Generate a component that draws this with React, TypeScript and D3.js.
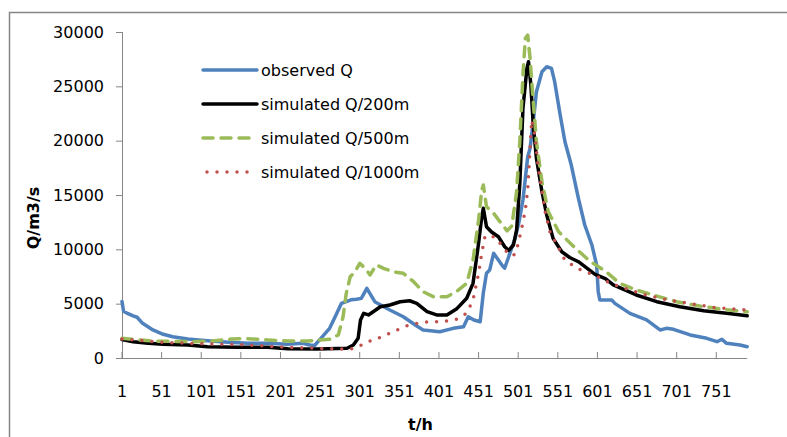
import React from "react";
import * as d3 from "d3";

// ---- data (hour, Q m3/s) ----
const observedQ: [number, number][] = [
  [1, 5200], [3, 4300], [8, 4100], [15, 3870], [20, 3750], [27, 3190], [40, 2580], [53, 2180], [65, 1960],
  [84, 1750], [109, 1590], [135, 1440], [160, 1350], [185, 1350], [210, 1260], [229, 1350], [238, 1200],
  [244, 1150], [252, 1800], [263, 2730], [270, 3800], [278, 5030], [290, 5350], [297, 5400], [303, 5490],
  [310, 6410], [320, 5180], [339, 4420], [356, 3800], [373, 2945], [381, 2580], [402, 2420], [419, 2730],
  [432, 2880], [438, 3800], [445, 3500], [453, 3340], [457, 6000], [461, 7800], [465, 8100], [470, 9630],
  [476, 9020], [482, 8400], [484, 8280], [489, 9320], [497, 11000], [502, 12500], [507, 14540], [513, 18500],
  [516, 19300], [520, 21740], [524, 24500], [531, 26350], [537, 26800], [543, 26650], [547, 25430],
  [554, 22360], [560, 19900], [568, 17760], [577, 14700], [585, 12240], [594, 10400], [600, 8560],
  [602, 6100], [604, 5340], [619, 5340], [623, 5030], [642, 4110], [663, 3500], [680, 2580], [688, 2730],
  [697, 2640], [718, 2120], [739, 1810], [752, 1500], [758, 1720], [764, 1350], [781, 1200], [790, 1040],
];

const simulated200: [number, number][] = [
  [1, 1700], [15, 1500], [34, 1350], [53, 1260], [84, 1196], [109, 1040], [147, 985], [185, 985],
  [210, 850], [248, 820], [285, 890], [293, 1200], [299, 1810], [302, 3500], [306, 4110], [312, 3960],
  [318, 4260], [327, 4720], [339, 4880], [352, 5180], [364, 5270], [373, 5030], [386, 4260], [398, 3960],
  [411, 3960], [423, 4500], [436, 5500], [444, 6870], [451, 10550], [455, 13000], [457, 13780],
  [461, 12080], [467, 11620], [476, 11160], [484, 10240], [489, 9900], [495, 10400], [499, 11800],
  [503, 16000], [507, 22980], [512, 26660], [514, 27270], [517, 25120], [520, 21440], [524, 18380],
  [531, 15300], [537, 13160], [545, 11010], [556, 9780], [566, 9250], [577, 8860], [598, 7700],
  [611, 7300], [621, 6720], [650, 5800], [676, 5180], [705, 4720], [735, 4350], [764, 4110], [790, 3890],
];

const simulated500: [number, number][] = [
  [1, 1810], [40, 1560], [90, 1500], [115, 1560], [140, 1750], [160, 1780], [185, 1660], [210, 1560],
  [235, 1560], [263, 1720], [274, 2120], [280, 3800], [284, 5950], [289, 7480], [295, 7940], [301, 8710],
  [308, 8250], [314, 7640], [322, 8560], [331, 8250], [343, 7940], [356, 7790], [369, 7020], [381, 6100],
  [394, 5640], [411, 5640], [423, 6100], [436, 6870], [444, 9020], [451, 12700], [455, 15460],
  [457, 15920], [461, 13920], [470, 13320], [478, 12540], [487, 11700], [493, 12160], [499, 15300],
  [503, 19900], [507, 26040], [510, 29420], [513, 29720], [516, 27580], [520, 23590], [524, 19900],
  [531, 16220], [539, 13460], [552, 11620], [569, 10400], [590, 9000], [600, 8500], [611, 8000],
  [629, 6870], [650, 6260], [676, 5700], [701, 5180], [730, 4780], [760, 4480], [790, 4250],
];

const simulated1000: [number, number][] = [
  [1, 1750], [53, 1440], [109, 1290], [160, 1196], [210, 985], [248, 890], [289, 800], [299, 1040],
  [312, 1500], [327, 1900], [343, 2420], [360, 2945], [377, 3250], [390, 3340], [406, 3340], [423, 3560],
  [436, 4110], [444, 5340], [451, 7790], [455, 9630], [459, 11160], [465, 11320], [474, 11010],
  [482, 10100], [491, 9480], [495, 9400], [499, 9940], [505, 11800], [510, 13620], [513, 15460],
  [516, 19300], [518, 21900], [520, 21140], [522, 20520], [526, 17760], [531, 15300], [535, 13460],
  [541, 11620], [550, 10400], [560, 9000], [577, 8200], [598, 7600], [617, 6870], [642, 6260],
  [667, 5700], [697, 5250], [722, 4970], [747, 4660], [790, 4420],
];

const yTicks = [0, 5000, 10000, 15000, 20000, 25000, 30000];
const xTicks = [1, 51, 101, 151, 201, 251, 301, 351, 401, 451, 501, 551, 601, 651, 701, 751];
const legendLabels = ["observed Q", "simulated Q/200m", "simulated Q/500m", "simulated Q/1000m"];

const W = 787;
const H = 437;
const FONT = "'DejaVu Sans', sans-serif";
const AXIS = "#868686";

export default function App() {
  const x = d3.scaleLinear().domain([1, 790]).range([122, 747.2]);
  const y = d3.scaleLinear().domain([0, 30000]).range([358, 32]);
  const line = d3
    .line<[number, number]>()
    .x((d) => x(d[0]))
    .y((d) => y(d[1]));

  const series = [
    { data: observedQ, color: "#4F81BD", dash: undefined as string | undefined, cap: "round" },
    { data: simulated200, color: "#000000", dash: undefined, cap: "round" },
    { data: simulated500, color: "#9BBB59", dash: "10 8", cap: "round" },
    { data: simulated1000, color: "#C0504D", dash: "0 10", cap: "round" },
  ];
  const legendY = [70, 104, 138, 172];

  return (
    <svg
      width={W}
      height={H}
      style={{ position: "absolute", left: 0, top: 0, background: "#fff" }}
      fontFamily={FONT}
    >
      <rect x={0} y={0} width={W} height={H} fill="#fff" />
      <rect x={9.5} y={12.5} width={900} height={600} fill="none" stroke={AXIS} strokeWidth={1.5} />

      {/* y axis */}
      <line x1={122.5} x2={122.5} y1={y(30000)} y2={y(0)} stroke={AXIS} strokeWidth={1} />
      {yTicks.map((t) => (
        <g key={t}>
          <line x1={116} x2={122.5} y1={y(t) + 0.5} y2={y(t) + 0.5} stroke={AXIS} />
          <text x={104} y={y(t) + 5.8} textAnchor="end" fontSize={16} fill="#000">
            {t}
          </text>
        </g>
      ))}

      {/* x axis */}
      <line x1={x(1)} x2={x(790)} y1={358.5} y2={358.5} stroke={AXIS} strokeWidth={1} />
      {xTicks.map((t) => (
        <g key={t}>
          <line x1={x(t)} x2={x(t)} y1={352} y2={358.5} stroke={AXIS} />
          <text x={x(t)} y={397} textAnchor="middle" fontSize={16} fill="#000">
            {t}
          </text>
        </g>
      ))}

      {/* series */}
      {series.map((s, i) => (
        <path
          key={i}
          d={line(s.data) || ""}
          fill="none"
          stroke={s.color}
          strokeWidth={3.5}
          strokeDasharray={s.dash}
          strokeLinecap={s.cap as any}
          strokeLinejoin="round"
        />
      ))}

      {/* legend */}
      {series.map((s, i) => (
        <g key={"lg" + i}>
          <line
            x1={s.dash === "0 10" ? 207 : 203}
            x2={257}
            y1={legendY[i]}
            y2={legendY[i]}
            stroke={s.color}
            strokeWidth={3.5}
            strokeDasharray={s.dash}
            strokeLinecap={s.cap as any}
          />
          <text x={261} y={legendY[i] + 6} fontSize={16} fill="#000">
            {legendLabels[i]}
          </text>
        </g>
      ))}

      {/* axis titles */}
      <text
        transform="translate(39,218) rotate(-90)"
        textAnchor="middle"
        fontSize={16}
        fontWeight="bold"
        fill="#000"
      >
        Q/m3/s
      </text>
      <text x={420.5} y={430} textAnchor="middle" fontSize={16} fontWeight="bold" fill="#000">
        t/h
      </text>
    </svg>
  );
}
